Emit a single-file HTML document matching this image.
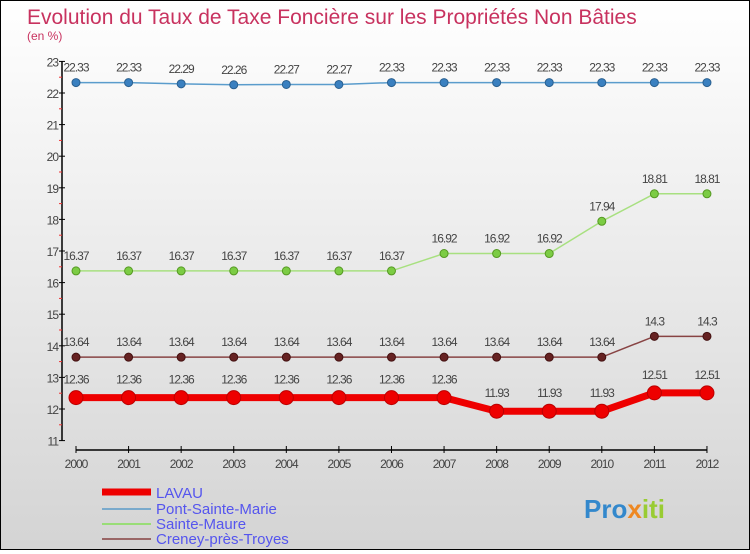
<!DOCTYPE html>
<html><head><meta charset="utf-8"><style>
html,body{margin:0;padding:0}
body{width:750px;height:550px;overflow:hidden;font-family:"Liberation Sans",sans-serif}
#c{position:relative;width:748px;height:548px;border:1px solid #000;background:linear-gradient(#ffffff,#d4d4d4)}
</style></head><body>
<div id="c">
<svg id="s" width="748" height="548" xmlns="http://www.w3.org/2000/svg">
<text x="26" y="23" font-size="21" fill="#c8325f">Evolution du Taux de Taxe Foncière sur les Propriétés Non Bâties</text>
<text x="26" y="39" font-size="12" fill="#c8325f">(en %)</text>
<g id="axes"></g><g id="series"></g>
<g>
<line x1="101" y1="491" x2="150" y2="491" stroke="#e00" stroke-width="7"/>
<text x="155" y="497" font-size="15" fill="#5555ee">LAVAU</text>
<line x1="101" y1="508" x2="150" y2="508" stroke="#7aaacc" stroke-width="2"/>
<text x="155" y="513" font-size="15" fill="#5555ee">Pont-Sainte-Marie</text>
<line x1="101" y1="523" x2="150" y2="523" stroke="#99dd77" stroke-width="2"/>
<text x="155" y="528" font-size="15" fill="#5555ee">Sainte-Maure</text>
<line x1="101" y1="538" x2="150" y2="538" stroke="#996666" stroke-width="2"/>
<text x="155" y="543" font-size="15" fill="#5555ee">Creney-près-Troyes</text>
</g>
<text x="583" y="517" font-size="26" font-weight="bold" fill="#3388cc">Pro<tspan fill="#ee8822">x</tspan><tspan fill="#99cc33">iti</tspan></text>
</svg></div>
<script>
const years=[2000,2001,2002,2003,2004,2005,2006,2007,2008,2009,2010,2011,2012];
const lavau=[12.36,12.36,12.36,12.36,12.36,12.36,12.36,12.36,11.93,11.93,11.93,12.51,12.51];
const pont=[22.33,22.33,22.29,22.26,22.27,22.27,22.33,22.33,22.33,22.33,22.33,22.33,22.33];
const maure=[16.37,16.37,16.37,16.37,16.37,16.37,16.37,16.92,16.92,16.92,17.94,18.81,18.81];
const creney=[13.64,13.64,13.64,13.64,13.64,13.64,13.64,13.64,13.64,13.64,13.64,14.3,14.3];
const yTicks=[11,12,13,14,15,16,17,18,19,20,21,22,23];
const NS="http://www.w3.org/2000/svg";
const X=i=>75+i*52.58, Y=v=>439.6-(v-11)*31.6;
function mk(p,t,a){const e=document.createElementNS(NS,t);for(const k in a)e.setAttribute(k,a[k]);p.appendChild(e);return e;}
const ax=document.getElementById('axes');
let l=mk(ax,'line',{x1:61,y1:60,x2:61,y2:440,stroke:'#000','stroke-width':1.5});

l=mk(ax,'line',{x1:75,y1:449,x2:706,y2:449,stroke:'#000','stroke-width':1.5});

yTicks.forEach(v=>{
 mk(ax,'line',{x1:58,y1:Y(v),x2:64,y2:Y(v),stroke:'#000'});
 if(v<23)mk(ax,'line',{x1:58,y1:Y(v+0.5),x2:61,y2:Y(v+0.5),stroke:'#e33'});
 const t=mk(ax,'text',{x:57,y:Y(v)+5,'font-size':12,fill:'#444','text-anchor':'end','letter-spacing':'-1'});
 t.textContent=v;
});
years.forEach((y,i)=>{
 mk(ax,'line',{x1:X(i),y1:445,x2:X(i),y2:452,stroke:'#000'});
 const t=mk(ax,'text',{x:X(i),y:467,'font-size':12,fill:'#444','text-anchor':'middle','letter-spacing':'-1'});
 t.textContent=y;
});
const sg=document.getElementById('series');
function series(name,vals,col,dot,w,r,stroke){
 const g=mk(sg,'g',{});
 const pl=mk(g,'polyline',{points:vals.map((v,i)=>X(i)+','+Y(v)).join(' '),fill:'none',stroke:col,'stroke-width':w});
 
 vals.forEach((v,i)=>{
  const c=mk(g,'circle',{cx:X(i),cy:Y(v),r:r,fill:dot,stroke:stroke,'stroke-width':1});
  
  const t=mk(g,'text',{x:X(i),y:Y(v)-r-7,'font-size':12,fill:'#444','text-anchor':'middle','letter-spacing':'-1'});
  t.textContent=v;
 });
}
series('pont-sainte-marie',pont,'#5a9ccc','#3a80c0',1.5,4,'#2a6090');
series('sainte-maure',maure,'#a8e080','#7ccc44',1.5,4,'#559922');
series('creney-pres-troyes',creney,'#884444','#662222',1.5,4,'#441111');
series('lavau',lavau,'#ee0000','#ee0000',7,7,'#bb0000');
</script>
</body></html>
